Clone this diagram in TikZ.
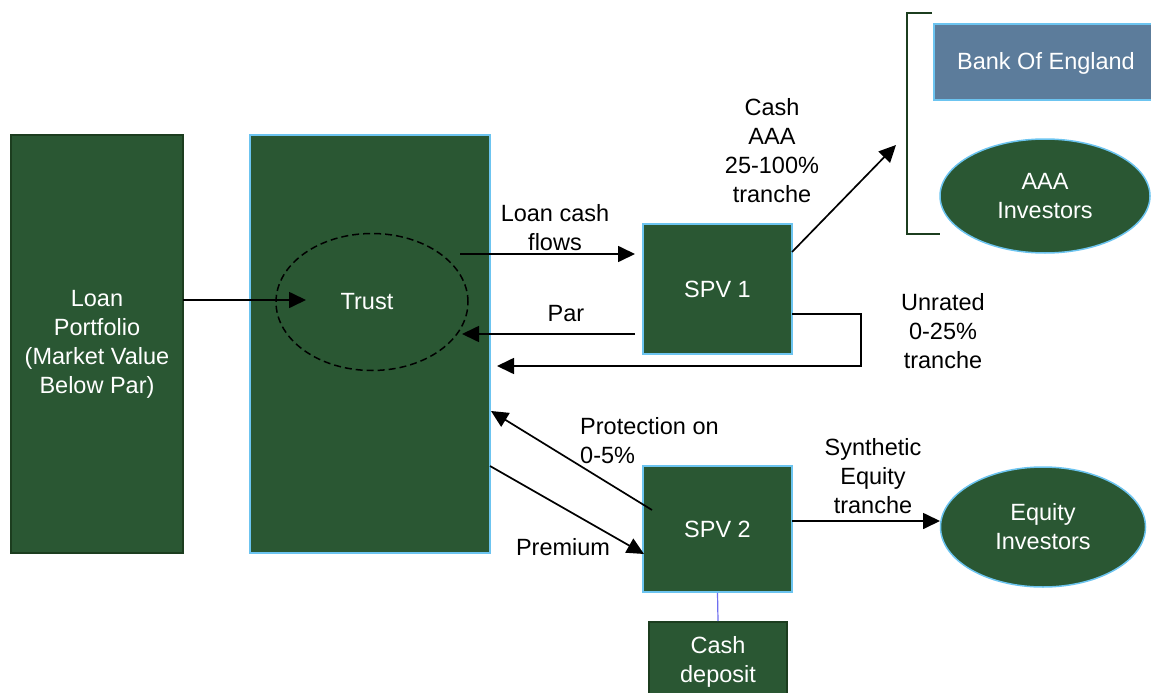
\documentclass[tikz,border=0pt]{standalone}
\usepackage{fontspec}
\setmainfont{Liberation Sans}
\usetikzlibrary{arrows.meta,shapes.geometric}
\definecolor{boxgreen}{HTML}{2A5733}
\definecolor{edgegreen}{HTML}{1C3D1F}
\definecolor{edgeblue}{HTML}{6CC4F0}
\definecolor{bankblue}{HTML}{5C7C9B}
\definecolor{linkviolet}{HTML}{6F6FF0}
\newcommand{\diagfont}{\fontsize{23.5}{29}\selectfont}
\tikzset{
  lbl/.style={font=\diagfont, align=center, inner sep=0pt},
  greenbox/.style={draw=edgeblue, fill=boxgreen, line width=1.5pt, text=white,
                   font=\diagfont, align=center},
  darkbox/.style={greenbox, draw=edgegreen},
  investor/.style={ellipse, greenbox},
  whitetext/.style={text=white, font=\diagfont, align=center},
  flow/.style={line width=1.7pt, -{Triangle[length=17pt,width=16pt]}},
}
\begin{document}
\begin{tikzpicture}[x=1pt,y=-1pt]
\useasboundingbox (0,0) rectangle (1151,693);
\clip (0,0) rectangle (1151,693);

% main holding entities
\node[darkbox, minimum width=172pt, minimum height=418pt] (loan) at (97,344)
  {Loan\\Portfolio\\(Market Value\\Below Par)};
\node[greenbox, minimum width=240pt, minimum height=418pt] (trustbox) at (370,344) {};
\node[draw=black, dash pattern=on 7pt off 4pt, line width=1.5pt, ellipse,
      minimum width=192pt, minimum height=137pt] (trustring) at (372,302) {};
\node[whitetext] (trust) at (367,302) {Trust};

% special purpose vehicles
\node[greenbox, minimum width=149pt, minimum height=130pt] (spv1) at (717.5,289) {SPV 1};
\node[greenbox, minimum width=149pt, minimum height=126pt] (spv2) at (717.5,529) {SPV 2};
\node[darkbox, minimum width=138pt, minimum height=90pt, anchor=north] (deposit) at (718,621) {};
\node[whitetext] (deposittext) at (718,662) {Cash\\deposit};

% investors
\node[greenbox, fill=bankblue, minimum width=240pt, minimum height=76pt, anchor=west] (boe) at (933,62) {};
\node[whitetext] (boetext) at (1046,63) {Bank Of England};
\node[investor, minimum width=210pt, minimum height=114pt] (aaa) at (1045,196) {AAA\\Investors};
\node[investor, minimum width=205pt, minimum height=120pt] (equity) at (1043,527) {Equity\\Investors};

% bracket grouping the senior tranche holders
\draw[edgegreen, line width=1.2pt] (932,13) -| (907,234) -- (940,234);

% connector end points
\coordinate (loanout) at (183,300);
\coordinate (trustin) at (306,300);
\coordinate (cfstart) at (460,254);
\coordinate (cfend) at (635,254);
\coordinate (parstart) at (635,334);
\coordinate (parend) at (462,334);
\coordinate (unstart) at (792,314);
\coordinate (uncorner) at (861,314);
\coordinate (unend) at (497,366);
\coordinate (aaastart) at (792,252);
\coordinate (aaaend) at (896,145);
\coordinate (protstart) at (652,510);
\coordinate (protend) at (491,411);
\coordinate (premstart) at (490,466);
\coordinate (premend) at (644,554);
\coordinate (synstart) at (792,521);
\coordinate (synend) at (940,521);

% flows
\draw[flow] (loanout) -- (trustin);
\draw[flow] (cfstart) -- (cfend);
\draw[flow] (parstart) -- (parend);
\draw[flow] (unstart) -- (uncorner) |- (unend);
\draw[flow] (aaastart) -- (aaaend);
\draw[flow] (protstart) -- (protend);
\draw[flow] (premstart) -- (premend);
\draw[flow] (synstart) -- (synend);
\draw[linkviolet, line width=1.2pt] (spv2.south) -- (deposit.north);

% flow labels
\node[lbl] (lcf) at (555,228) {Loan cash\\flows};
\node[lbl] (par) at (566,314) {Par};
\node[lbl] (cashaaa) at (772,151) {Cash\\AAA\\25-100\%\\tranche};
\node[lbl] (unrated) at (943,331) {Unrated\\0-25\%\\tranche};
\node[lbl, align=left, anchor=west] (prot) at (580,441) {Protection on\\0-5\%};
\node[lbl] (prem) at (563,547) {Premium};
\node[lbl] (synth) at (873,476) {Synthetic\\Equity\\tranche};
\end{tikzpicture}
\end{document}
